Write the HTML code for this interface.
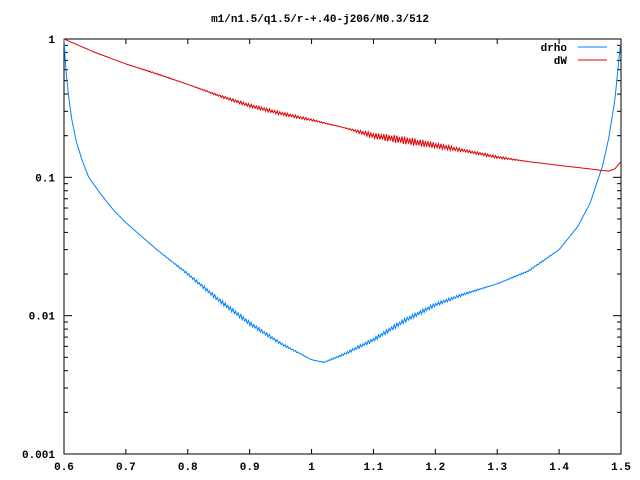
<!DOCTYPE html>
<html><head><meta charset="utf-8"><style>
body{margin:0;background:#fff}
svg{display:block;font-family:"Liberation Mono",monospace;font-size:11px;font-weight:bold}
</style></head><body>
<svg id="c" width="640" height="480">
<text x="320" y="22" text-anchor="middle">m1/n1.5/q1.5/r-+.40-j206/M0.3/512</text>
<g id="axes"></g><g id="series"></g>
<g>
<text x="567" y="51" text-anchor="end">drho</text>
<line x1="578" y1="47" x2="607" y2="47" stroke="#0080ff"/>
<text x="567" y="64" text-anchor="end">dW</text>
<line x1="578" y1="60" x2="607" y2="60" stroke="#e00000"/>
</g>
</svg>
<script>
const xTicks=[0.6,0.7,0.8,0.9,1,1.1,1.2,1.3,1.4,1.5];
const xTickLabels=["0.6","0.7","0.8","0.9","1","1.1","1.2","1.3","1.4","1.5"];
const yTicks=[1,0.1,0.01,0.001];
const yTickLabels=["1","0.1","0.01","0.001"];
const drhoX=[0.6,0.603,0.607,0.612,0.62,0.63,0.64,0.66,0.68,0.7,0.75,0.8,0.85,0.9,0.95,1.0,1.02,1.05,1.1,1.15,1.2,1.25,1.3,1.35,1.4,1.43,1.45,1.47,1.48,1.49,1.495,1.5];
const drhoY=[1,0.6,0.4,0.27,0.18,0.13,0.1,0.075,0.058,0.047,0.03,0.02,0.013,0.0088,0.0063,0.0048,0.0046,0.0052,0.0067,0.0092,0.012,0.0145,0.017,0.021,0.03,0.044,0.065,0.12,0.19,0.36,0.6,1];
const dwX=[0.6,0.65,0.7,0.75,0.8,0.85,0.9,0.95,1.0,1.05,1.1,1.15,1.2,1.25,1.3,1.35,1.4,1.45,1.47,1.48,1.49,1.5];
const dwY=[1,0.8,0.66,0.56,0.47,0.39,0.33,0.29,0.26,0.23,0.2,0.185,0.17,0.155,0.14,0.13,0.122,0.115,0.112,0.111,0.115,0.13];
const L=64,R=621,T=39,B=454;
const sx=v=>L+(v-0.6)/(1.5-0.6)*(R-L);
const sy=v=>T+(0-Math.log10(v))/3*(B-T);
const NS="http://www.w3.org/2000/svg";
const ax=document.getElementById('axes'),se=document.getElementById('series');
function mk(p,tag,a){const e=document.createElementNS(NS,tag);for(const k in a)e.setAttribute(k,a[k]);p.appendChild(e);return e;}
const fr=mk(ax,'rect',{x:L,y:T,width:R-L,height:B-T,fill:'none',stroke:'#000'});


xTicks.forEach((v,i)=>{const x=sx(v);
mk(ax,'line',{x1:x,y1:B,x2:x,y2:B-5,stroke:'#000'});mk(ax,'line',{x1:x,y1:T,x2:x,y2:T+5,stroke:'#000'});
const t=mk(ax,'text',{x:x,y:B+16,'text-anchor':'middle'});t.textContent=xTickLabels[i];

});
yTicks.forEach((v,i)=>{const y=sy(v);
mk(ax,'line',{x1:L,y1:y,x2:L+8,y2:y,stroke:'#000'});mk(ax,'line',{x1:R,y1:y,x2:R-8,y2:y,stroke:'#000'});
if(i<3)for(let m=2;m<10;m++){const yy=sy(v/10*m);mk(ax,'line',{x1:L,y1:yy,x2:L+4,y2:yy,stroke:'#000'});mk(ax,'line',{x1:R,y1:yy,x2:R-4,y2:yy,stroke:'#000'});}
const t=mk(ax,'text',{x:L-9,y:y+4,'text-anchor':'end'});t.textContent=yTickLabels[i];

});
function interp(xs,ys,x){for(let i=1;i<xs.length;i++)if(x<=xs[i]){const f=(x-xs[i-1])/(xs[i]-xs[i-1]);return Math.exp(Math.log(ys[i-1])*(1-f)+Math.log(ys[i])*f);}return ys[ys.length-1];}
function bump(x,a,b){if(x<=a||x>=b)return 0;const t=(x-a)/(b-a);return Math.sin(Math.PI*t);}
function draw(xs,ys,color,name,wig){let d='';let k=0;
const x0=sx(xs[0]),x1=sx(xs[xs.length-1]);
for(let px=x0;px<=x1+0.01;px+=1.3,k++){const xv=0.6+(px-L)/(R-L)*0.9;
let y=sy(interp(xs,ys,xv));y+=(k%2?1:-1)*wig(xv)*(0.6+0.4*Math.abs(Math.sin(k*0.45)));d+=(d?'L':'M')+px.toFixed(1)+','+y.toFixed(1);}
const p=mk(se,'path',{d:d,fill:'none',stroke:color,'stroke-width':1});

}
draw(drhoX,drhoY,'#0080ff','drho-line',x=>2.2*bump(x,0.75,1.0)+2.2*bump(x,1.0,1.3)+0.8*bump(x,1.3,1.4));
draw(dwX,dwY,'#e00000','dw-line',x=>0.6*bump(x,0.7,0.8)+1.8*bump(x,0.8,1.05)+4*bump(x,1.05,1.25)+1.5*bump(x,1.2,1.35));
</script>
</body></html>
